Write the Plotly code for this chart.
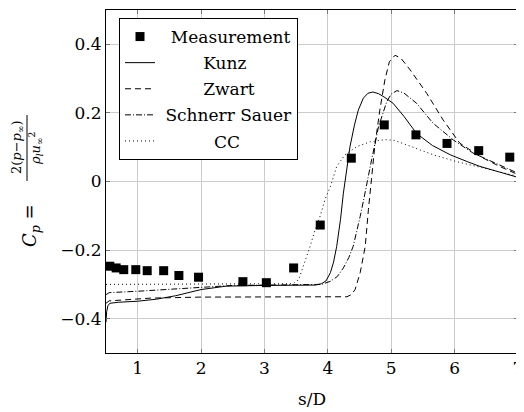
import plotly.graph_objects as go

# ---------------- data ----------------
meas_x = [0.56, 0.66, 0.78, 0.97, 1.15, 1.41, 1.65, 1.96, 2.66, 3.03, 3.46, 3.88, 4.37, 4.89, 5.39, 5.88, 6.38, 6.87]
meas_y = [-0.247, -0.252, -0.257, -0.257, -0.26, -0.26, -0.274, -0.279, -0.292, -0.295, -0.252, -0.127, 0.068, 0.165, 0.136, 0.111, 0.09, 0.071]

kunz_x = [0.5, 0.51, 0.53, 0.56, 0.7, 1.0, 1.3, 1.6, 2.0, 2.4, 3.0, 3.5, 3.8, 3.9, 3.97, 4.04, 4.09, 4.14, 4.2, 4.245,
          4.3, 4.35, 4.42, 4.48, 4.56, 4.63, 4.71, 4.8, 4.9, 5.03, 5.2, 5.4, 5.65, 5.93, 6.2, 6.4, 6.7, 7.0]
kunz_y = [-0.41, -0.38, -0.362, -0.355, -0.352, -0.349, -0.343, -0.333, -0.315, -0.305, -0.303, -0.303, -0.302, -0.298,
          -0.29, -0.266, -0.235, -0.189, -0.11, -0.034, 0.04, 0.102, 0.165, 0.208, 0.243, 0.257, 0.261, 0.256, 0.245,
          0.228, 0.19, 0.14, 0.105, 0.078, 0.058, 0.044, 0.028, 0.012]

zwart_x = [0.5, 0.55, 0.8, 1.2, 2.0, 3.0, 4.0, 4.3, 4.37, 4.43, 4.51, 4.59, 4.64, 4.69, 4.74, 4.82, 4.9, 4.97, 5.06,
           5.15, 5.3, 5.56, 5.82, 6.08, 6.4, 6.71, 7.0]
zwart_y = [-0.355, -0.348, -0.345, -0.34, -0.337, -0.337, -0.337, -0.336, -0.33, -0.315, -0.266, -0.189, -0.082, 0.015,
           0.102, 0.208, 0.296, 0.349, 0.368, 0.36, 0.325, 0.257, 0.179, 0.112, 0.073, 0.044, 0.02]

ss_x = [0.5, 0.55, 1.0, 1.5, 2.0, 2.5, 3.0, 3.5, 3.9, 4.04, 4.15, 4.245, 4.33, 4.40, 4.46, 4.51, 4.56, 4.61, 4.69,
        4.8, 4.93, 5.0, 5.09, 5.2, 5.4, 5.66, 5.98, 6.29, 6.66, 7.0]
ss_y = [-0.33, -0.324, -0.32, -0.314, -0.307, -0.303, -0.302, -0.302, -0.3, -0.291, -0.277, -0.252, -0.222, -0.189,
        -0.145, -0.102, -0.058, -0.015, 0.063, 0.16, 0.233, 0.255, 0.265, 0.258, 0.228, 0.17, 0.121, 0.083, 0.053, 0.024]

cc_x = [0.5, 1.0, 2.0, 3.0, 3.45, 3.54, 3.62, 3.72, 3.8, 3.88, 3.96, 4.04, 4.14, 4.27, 4.46, 4.67, 4.9, 5.05, 5.24,
        5.45, 5.66, 6.03, 6.45, 7.0]
cc_y = [-0.3, -0.3, -0.3, -0.3, -0.298, -0.286, -0.245, -0.189, -0.14, -0.1, -0.05, -0.015, 0.044, 0.078, 0.102,
        0.116, 0.122, 0.12, 0.107, 0.092, 0.078, 0.058, 0.039, 0.015]

x_ticks = [1, 2, 3, 4, 5, 6, 7]
y_ticks = [-0.4, -0.2, 0, 0.2, 0.4]
y_tick_labels = ["\u22120.4", "\u22120.2", "0", "0.2", "0.4"]

# ---------------- figure ----------------
FONT = "DejaVu Serif"
FS = 17
NB = "\u00a0"

fig = go.Figure()
fig.add_trace(go.Scatter(x=meas_x, y=meas_y, mode="markers", name=NB * 2 + "Measurement", legendgroup="m",
                         marker=dict(symbol="square", size=9, color="black"), cliponaxis=False))
fig.add_trace(go.Scatter(x=kunz_x, y=kunz_y, mode="lines", name=NB * 8 + "Kunz", legendgroup="k",
                         line=dict(color="black", width=1)))
fig.add_trace(go.Scatter(x=zwart_x, y=zwart_y, mode="lines", name=NB * 8 + "Zwart", legendgroup="z",
                         line=dict(color="black", width=1, dash="6px,4px")))
fig.add_trace(go.Scatter(x=ss_x, y=ss_y, mode="lines", name=NB * 1 + "Schnerr Sauer", legendgroup="s",
                         line=dict(color="black", width=1, dash="6px,2px,1px,2px")))
fig.add_trace(go.Scatter(x=cc_x, y=cc_y, mode="lines", name=NB * 10 + "CC", legendgroup="c",
                         line=dict(color="black", width=1, dash="1px,3px")))

# page has an 8px body margin: plot area should land at page x 106..518, y 10..353
OFF = 8
PL, PR, PT, PB = 106, 518, 10, 353
W, H = 524 - OFF, 412 - OFF
L, T = PL - OFF, PT - OFF
R, B = W - (PR - OFF), H - (PB - OFF)
pw, ph = PR - PL, PB - PT


def px_x(px):
    return (px - PL) / pw


def px_y(py):
    return 1 - (py - PT) / ph


fig.update_layout(
    width=W, height=H,
    margin=dict(l=L, r=R, t=T, b=B, autoexpand=False),
    paper_bgcolor="white", plot_bgcolor="white",
    font=dict(family=FONT, size=FS, color="black"),
    showlegend=True,
    legend=dict(x=px_x(119), y=px_y(18), xanchor="left", yanchor="top",
                bgcolor="white", bordercolor="black", borderwidth=1,
                font=dict(family=FONT, size=FS), tracegroupgap=1, itemwidth=30),
    xaxis=dict(range=[0.5, 7], tickvals=x_ticks, ticktext=[str(v) for v in x_ticks],
               showgrid=True, gridcolor="#cccccc", gridwidth=1, zeroline=False,
               showline=True, linecolor="black", linewidth=1, mirror="ticks",
               ticks="inside", ticklen=4, tickcolor="#777777",
               tickfont=dict(family=FONT, size=FS),
               title=dict(text="s/D", standoff=15, font=dict(family=FONT, size=FS))),
    yaxis=dict(range=[-0.5, 0.5], tickvals=y_ticks, ticktext=y_tick_labels,
               showgrid=True, gridcolor="#cccccc", gridwidth=1, zeroline=False,
               showline=True, linecolor="black", linewidth=1, mirror="ticks",
               ticks="inside", ticklen=4, tickcolor="#777777",
               tickfont=dict(family=FONT, size=FS)),
)

# y-axis label:  C_p = 2(p - p_inf) / (rho_l u_inf^2)
fig.add_annotation(xref="paper", yref="paper", x=px_x(31), y=px_y(226), showarrow=False,
                   text="<i>C<sub>p</sub></i> =", textangle=-90, xanchor="center", yanchor="middle",
                   font=dict(family=FONT, size=18))
fig.add_annotation(xref="paper", yref="paper", x=px_x(18), y=px_y(147), showarrow=False,
                   text="2(<i>p</i>\u2212<i>p</i><sub>\u221e</sub>)", textangle=-90,
                   xanchor="center", yanchor="middle", font=dict(family=FONT, size=13))
fig.add_annotation(xref="paper", yref="paper", x=px_x(36), y=px_y(149), showarrow=False,
                   text="<i>\u03c1<sub>l</sub>u</i><sub>\u221e</sub><sup>2</sup>", textangle=-90,
                   xanchor="center", yanchor="middle", font=dict(family=FONT, size=13))
fig.add_shape(type="line", xref="paper", yref="paper", x0=px_x(27), x1=px_x(27),
              y0=px_y(115), y1=px_y(181), line=dict(color="black", width=1))

fig.write_html("out.html")
